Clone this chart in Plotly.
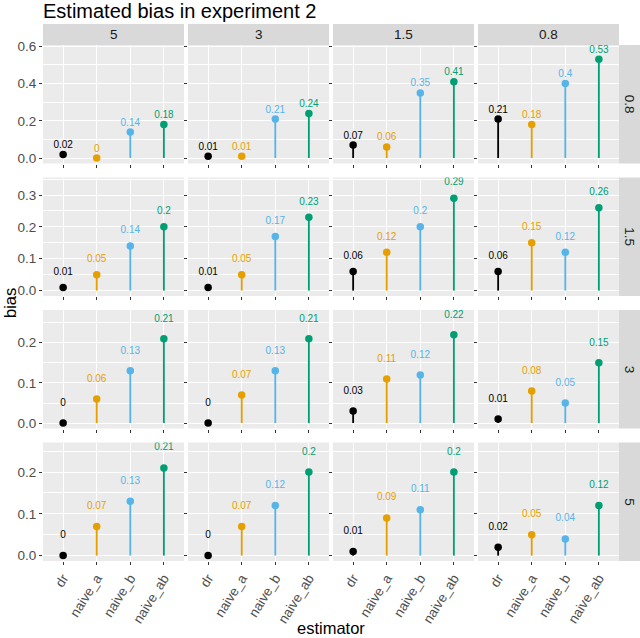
import plotly.graph_objects as go
from plotly.subplots import make_subplots

# ----- data -----
col_labels = ['5', '3', '1.5', '0.8']
row_labels = ['0.8', '1.5', '3', '5']
estimators = ['dr', 'naive_a', 'naive_b', 'naive_ab']
est_colors = ['#000000', '#E69F00', '#56B4E9', '#009E73']

# one list per column (5, 3, 1.5, 0.8), values in estimator order
bias_row_0_8 = [[0.02, 0.00, 0.14, 0.18], [0.01, 0.01, 0.21, 0.24],
                [0.07, 0.06, 0.35, 0.41], [0.21, 0.18, 0.40, 0.53]]
bias_row_1_5 = [[0.01, 0.05, 0.14, 0.20], [0.01, 0.05, 0.17, 0.23],
                [0.06, 0.12, 0.20, 0.29], [0.06, 0.15, 0.12, 0.26]]
bias_row_3 = [[0.00, 0.06, 0.13, 0.21], [0.00, 0.07, 0.13, 0.21],
              [0.03, 0.11, 0.12, 0.22], [0.01, 0.08, 0.05, 0.15]]
bias_row_5 = [[0.00, 0.07, 0.13, 0.21], [0.00, 0.07, 0.12, 0.20],
              [0.01, 0.09, 0.11, 0.20], [0.02, 0.05, 0.04, 0.12]]
bias_rows = [bias_row_0_8, bias_row_1_5, bias_row_3, bias_row_5]

label_nudge = 0.048
font = 'Liberation Sans, Arial, sans-serif'

W, H = 640, 638
ml, mr, mt, mb = 43, 21, 45, 77
pw, ph = W - ml - mr, H - mt - mb

fig = make_subplots(rows=4, cols=4, shared_xaxes=True, shared_yaxes=True,
                    horizontal_spacing=4 / pw, vertical_spacing=14 / ph)

for r, row in enumerate(bias_rows):
    for c, vals in enumerate(row):
        for e, est in enumerate(estimators):
            v = vals[e]
            col = est_colors[e]
            fig.add_trace(go.Scatter(x=[est, est], y=[0, v], mode='lines',
                                     line=dict(color=col, width=1.8),
                                     showlegend=False, hoverinfo='skip'),
                          row=r + 1, col=c + 1)
            fig.add_trace(go.Scatter(x=[est], y=[v], mode='markers',
                                     marker=dict(color=col, size=7.5),
                                     showlegend=False),
                          row=r + 1, col=c + 1)
            fig.add_trace(go.Scatter(x=[est], y=[v + label_nudge], mode='text',
                                     text=[f'{v:g}'], textposition='middle center',
                                     textfont=dict(color=col, size=10, family=font),
                                     showlegend=False, hoverinfo='skip'),
                          row=r + 1, col=c + 1)

# free y scale per row, ggplot-style 5% expansion
for r, row in enumerate(bias_rows):
    top = max(max(v) for v in row) + label_nudge
    pad = 0.05 * top
    dtick = 0.2 if top > 0.4 else 0.1
    fig.update_yaxes(range=[-pad, top + pad], autorange=False, dtick=dtick,
                     tickformat='.1f',
                     minor=dict(dtick=dtick / 2, showgrid=True, gridcolor='white',
                                gridwidth=0.5),
                     row=r + 1)

fig.update_xaxes(range=[-0.6, 3.6], autorange=False, automargin=False,
                 categoryorder='array', categoryarray=estimators,
                 showgrid=True, gridcolor='white', gridwidth=1.1, zeroline=False,
                 ticks='outside', ticklen=3, tickcolor='#333333', tickangle=-58,
                 tickfont=dict(size=13.5, color='#4D4D4D', family=font),
                 showline=False)
fig.update_yaxes(automargin=False, showgrid=True, gridcolor='white', gridwidth=1.1,
                 zeroline=False, ticks='outside', ticklen=3, tickcolor='#333333',
                 tickfont=dict(size=13.5, color='#4D4D4D', family=font),
                 showline=False)

# facet strips
shapes, annotations = [], []
strip = 21
for c, lab in enumerate(col_labels):
    dom = fig.layout['xaxis' + ('' if c == 0 else str(c + 1))].domain
    shapes.append(dict(type='rect', xref='paper', yref='paper', x0=dom[0], x1=dom[1],
                       y0=1, y1=1 + strip / ph, fillcolor='#D9D9D9', line_width=0))
    annotations.append(dict(text=lab, xref='paper', yref='paper', x=(dom[0] + dom[1]) / 2,
                            y=1 + strip / ph / 2, xanchor='center', yanchor='middle',
                            showarrow=False,
                            font=dict(size=13.5, color='#1A1A1A', family=font)))
for r, lab in enumerate(row_labels):
    dom = fig.layout['yaxis' + ('' if r == 0 else str(r * 4 + 1))].domain
    shapes.append(dict(type='rect', xref='paper', yref='paper', x0=1, x1=1 + strip / pw,
                       y0=dom[0], y1=dom[1], fillcolor='#D9D9D9', line_width=0))
    annotations.append(dict(text=lab, xref='paper', yref='paper', x=1 + strip / pw / 2,
                            y=(dom[0] + dom[1]) / 2, xanchor='center', yanchor='middle',
                            showarrow=False, textangle=90,
                            font=dict(size=13.5, color='#1A1A1A', family=font)))

annotations.append(dict(text='bias', xref='paper', yref='paper', x=(10 - ml) / pw, y=0.5,
                        xanchor='center', yanchor='middle', showarrow=False,
                        textangle=-90, font=dict(size=16.5, color='black', family=font)))
annotations.append(dict(text='estimator', xref='paper', yref='paper', x=0.5,
                        y=(H - mb - 628) / ph, xanchor='center', yanchor='middle',
                        showarrow=False,
                        font=dict(size=16.5, color='black', family=font)))

fig.update_layout(
    width=W, height=H,
    margin=dict(l=ml, r=mr, t=mt, b=mb, autoexpand=False),
    paper_bgcolor='white', plot_bgcolor='#EBEBEB',
    title=dict(text='Estimated bias in experiment 2', x=ml / W, xanchor='left',
               y=1 - 11 / H, yanchor='middle',
               font=dict(size=20, color='black', family=font)),
    shapes=shapes, annotations=annotations,
    font=dict(family=font),
)

# drop the default page margin so the figure sits at the window's corner
fig.write_html('out.html', config={'displayModeBar': False},
               post_script="document.body.style.margin='0';")
